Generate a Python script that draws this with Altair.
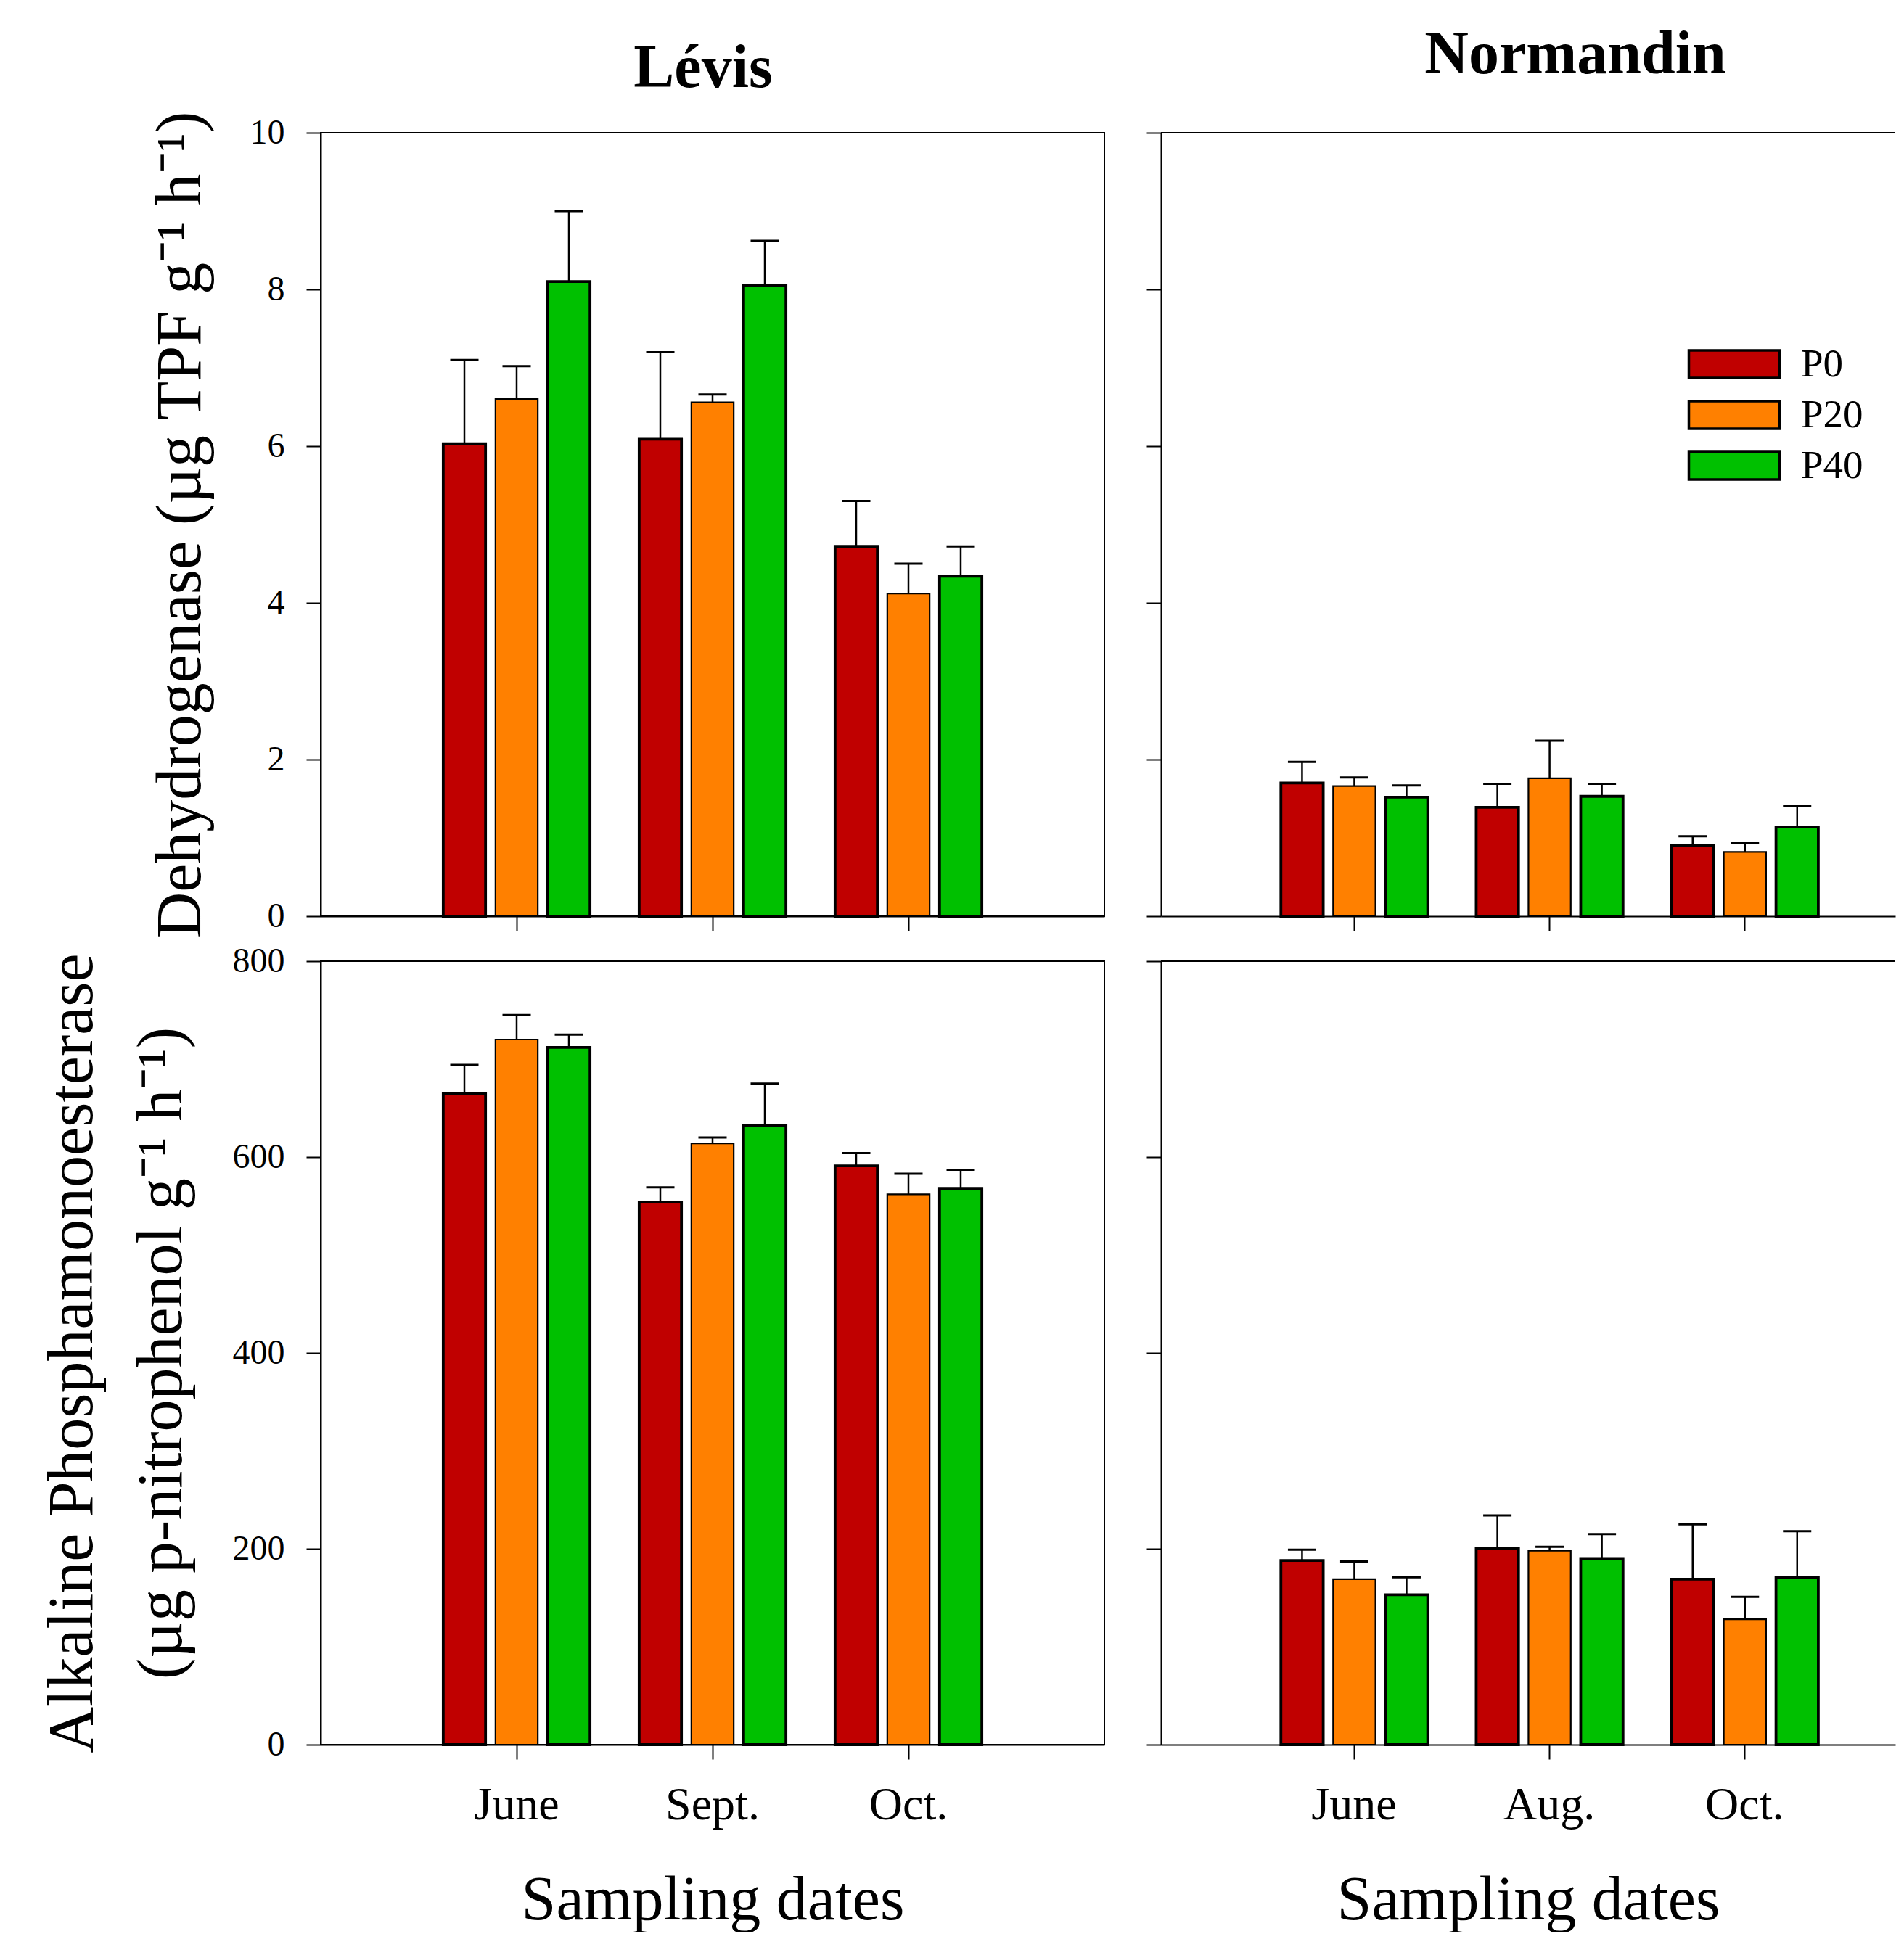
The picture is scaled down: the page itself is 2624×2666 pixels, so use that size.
import altair as alt
import pandas as pd

FONT = "Liberation Serif"
series = ["P0", "P20", "P40"]
colors = ["#C00000", "#FF8000", "#00C000"]

levis_months = ["June", "Sept.", "Oct."]
norm_months = ["June", "Aug.", "Oct."]

# Dehydrogenase, Lévis (mean, error) per month, series P0/P20/P40
deh_levis_mean = [6.03, 6.60, 8.10, 6.09, 6.56, 8.05, 4.72, 4.12, 4.34]
deh_levis_err = [1.07, 0.42, 0.90, 1.11, 0.10, 0.57, 0.58, 0.38, 0.38]
# Dehydrogenase, Normandin
deh_norm_mean = [1.70, 1.66, 1.52, 1.39, 1.76, 1.53, 0.90, 0.82, 1.14]
deh_norm_err = [0.27, 0.11, 0.15, 0.30, 0.48, 0.16, 0.12, 0.12, 0.27]
# Alkaline phosphomonoesterase, Lévis
alk_levis_mean = [665, 720, 712, 554, 614, 632, 591, 562, 568]
alk_levis_err = [29, 25, 13, 15, 6, 43, 13, 21, 19]
# Alkaline phosphomonoesterase, Normandin
alk_norm_mean = [188, 169, 153, 200, 198, 190, 169, 128, 171]
alk_norm_err = [11, 18, 18, 34, 4, 25, 56, 23, 47]


def make_df(months, means, errs):
    rows = []
    i = 0
    for m in months:
        for s in series:
            rows.append({"month": m, "series": s, "value": means[i], "upper": means[i] + errs[i]})
            i += 1
    return pd.DataFrame(rows)


color_enc = alt.Color(
    "series:N",
    scale=alt.Scale(domain=series, range=colors),
    legend=alt.Legend(
        title=None,
        orient="none",
        legendX=1915,
        legendY=286,
        symbolType="M-2,-0.608H2V0.608H-2Z",
        symbolSize=3906,
        symbolStrokeColor="black",
        symbolStrokeWidth=3.5,
        symbolOpacity=1,
        labelFont=FONT,
        labelFontSize=55,
        labelColor="black",
        labelOffset=59,
        rowPadding=9,
    ),
)


def panel(months, means, errs, ymax, ystep, left, bottom, ytitle=None, title=None, tpad=40):
    df = make_df(months, means, errs)
    W = 1080 if left else 1012
    H = 1080
    if left:
        xs = alt.Scale(domain=months, paddingInner=0, paddingOuter=0.5)
    else:
        xs = alt.Scale(domain=months, paddingInner=0, paddingOuter=0.38, align=0.6426)
    x = alt.X(
        "month:N",
        scale=xs,
        sort=months,
        axis=alt.Axis(
            title="Sampling dates" if bottom else None,
            labels=bottom,
            labelAngle=0,
            labelFont=FONT,
            labelFontSize=64,
            labelColor="black",
            labelPadding=31,
            tickSize=20,
            tickWidth=2,
            tickColor="black",
            domain=True,
            domainColor="black",
            domainWidth=2,
            titleFont=FONT,
            titleFontSize=86,
            titleFontWeight="normal",
            titleColor="black",
            titlePadding=57,
        ),
    )
    xo = alt.XOffset("series:N", sort=series,
                     scale=alt.Scale(domain=series, paddingInner=0.19, paddingOuter=0.47))
    if ytitle is not None:
        yaxis = alt.Axis(
            values=list(range(0, ymax + 1, ystep)),
            format="d",
            labels=True,
            labelFont=FONT,
            labelFontSize=48,
            labelColor="black",
            labelPadding=30,
            tickSize=20,
            tickWidth=2,
            tickColor="black",
            domainColor="black",
            domainWidth=2,
            grid=False,
            title=ytitle,
            titleFont=FONT,
            titleFontSize=88,
            titleFontWeight="normal",
            titleColor="black",
            titlePadding=tpad,
            titleLineHeight=123,
        )
    else:
        yaxis = alt.Axis(
            values=list(range(0, ymax + 1, ystep)),
            labels=False,
            tickSize=20,
            tickWidth=2,
            tickColor="black",
            domainColor="black",
            domainWidth=2,
            grid=False,
            title=None,
        )
    y = alt.Y("value:Q", scale=alt.Scale(domain=[0, ymax], nice=False, zero=True), axis=yaxis)

    base = alt.Chart(df)
    bars = base.mark_bar(stroke="black").encode(
        x=x, xOffset=xo, y=y, color=color_enc,
        strokeWidth=alt.condition("datum.series == 'P20'", alt.value(2.2), alt.value(3.8)),
    )
    rules = base.mark_rule(color="black", strokeWidth=2.5).encode(
        x=x, xOffset=xo, y="value:Q", y2="upper:Q"
    )
    caps = base.mark_tick(color="black", thickness=3, size=39, opacity=1).encode(
        x=x, xOffset=xo, y="upper:Q"
    )
    layers = [bars, rules, caps]
    if not left:
        top_line = alt.Chart(pd.DataFrame({"a": [0]})).mark_rule(color="black", strokeWidth=2).encode(
            x=alt.value(0), x2=alt.value(W), y=alt.value(0)
        )
        layers.append(top_line)
    ch = alt.layer(*layers).properties(width=W, height=H)
    if left:
        ch = ch.properties(view=alt.ViewBackground(stroke="black", strokeWidth=2))
    else:
        ch = ch.properties(view=alt.ViewBackground(stroke=None))
    if title is not None:
        ch = ch.properties(title=title)
    return ch


tl = panel(levis_months, deh_levis_mean, deh_levis_err, 10, 2, True, False,
           ytitle="Dehydrogenase (µg TPF g⁻¹ h⁻¹)", tpad=51,
           title=alt.TitleParams("Lévis", font=FONT, fontSize=84, fontWeight="bold", color="black",
                                 anchor="middle", frame="group", offset=14, dx=-13))
tr = panel(norm_months, deh_norm_mean, deh_norm_err, 10, 2, False, False,
           title=alt.TitleParams("Normandin", font=FONT, fontSize=84, fontWeight="bold", color="black",
                                 anchor="middle", frame="group", offset=63, dx=65))
bl = panel(levis_months, alk_levis_mean, alk_levis_err, 800, 200, True, True,
           ytitle=["Alkaline Phosphamonoesterase", "(µg p-nitrophenol g⁻¹ h⁻¹)"], tpad=53)
br = panel(norm_months, alk_norm_mean, alk_norm_err, 800, 200, False, True)

chart = alt.concat(
    tl, tr, bl, br,
    columns=2,
    spacing={"row": 62, "column": 78},
    bounds="flush",
).properties(
    padding={"left": 46, "top": 26, "right": 0, "bottom": 0}
).configure_view(stroke=None).configure(background="white")

chart.save("out.html", embed_options={"renderer": "svg", "actions": False})
